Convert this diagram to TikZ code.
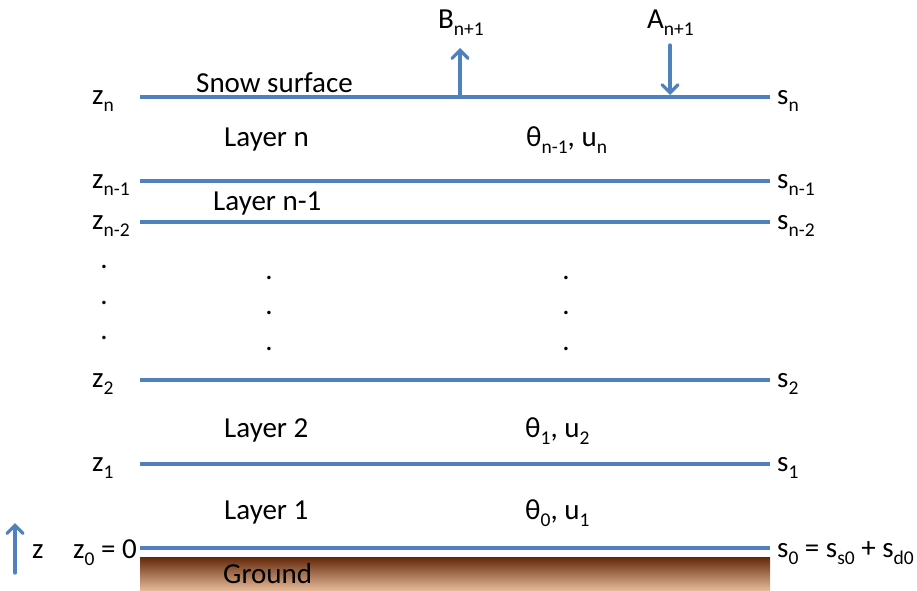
\documentclass[tikz,border=0pt]{standalone}
\usepackage{fontspec}
\setmainfont{Carlito}
\usetikzlibrary{arrows.meta}
\definecolor{lineblue}{HTML}{4F81BD}
\definecolor{groundtop}{HTML}{62280A}
\definecolor{groundmid}{HTML}{A9592F}
\definecolor{groundbot}{HTML}{E4B897}
\newcommand\sbs[1]{\raisebox{-7pt}{\fontsize{19.5}{19.5}\selectfont #1}}
\begin{document}
\begin{tikzpicture}[x=1pt,y=-1pt,
  txt/.style={anchor=base west,inner sep=0pt,font=\fontsize{29}{34}\selectfont},
  dotlbl/.style={anchor=base,inner sep=0pt,font=\fontsize{29}{34}\selectfont},
  layerline/.style={draw=lineblue,line width=3.3pt},
  flux/.style={draw=lineblue,line width=3.3pt,line cap=round,-{Straight Barb[length=8pt,width=16pt,line cap=round]}}]
\useasboundingbox (0,0) rectangle (917,590);
% ground
\shade[top color=groundtop,middle color=groundmid,bottom color=groundbot] (140,557) rectangle (770,590);
% layer boundaries
\foreach \nm/\yy in {ln/97,lnm1/181,lnm2/222,l2/380,l1/464,l0/548}{
  \coordinate (\nm W) at (140,\yy);
  \coordinate (\nm E) at (770,\yy);
  \draw[layerline] (\nm W) -- (\nm E);
}
% left labels
\node[txt] (zn) at (92,104) {z\sbs{n}};
\node[txt] (znm1) at (92,188) {z\sbs{n-1}};
\node[txt] (znm2) at (92,229) {z\sbs{n-2}};
\node[txt] (z2) at (92,387) {z\sbs{2}};
\node[txt] (z1) at (92,471) {z\sbs{1}};
\node[txt] (z0) at (73,558) {z\sbs{0} = 0};
% right labels
\node[txt] (sn) at (777,104) {s\sbs{n}};
\node[txt] (snm1) at (777,188) {s\sbs{n-1}};
\node[txt] (snm2) at (777,229) {s\sbs{n-2}};
\node[txt] (s2) at (777,387) {s\sbs{2}};
\node[txt] (s1) at (777,471) {s\sbs{1}};
\node[txt] (s0) at (777,557) {s\sbs{0} = s\sbs{s0} + s\sbs{d0}};
% layer names
\node[txt] (snow) at (196,92) {Snow surface};
\node[txt] (layn) at (224,146) {Layer n};
\node[txt] (laynm1) at (213,210) {Layer n-1};
\node[txt] (lay2) at (224,437) {Layer 2};
\node[txt] (lay1) at (224,519) {Layer 1};
\node[txt] (ground) at (223,583) {Ground};
% state variables
\node[txt] (vn) at (526,146) {θ\sbs{n-1}, u\sbs{n}};
\node[txt] (v2) at (525,437) {θ\sbs{1}, u\sbs{2}};
\node[txt] (v1) at (525,519) {θ\sbs{0}, u\sbs{1}};
% dots
\foreach \i/\yy in {1/266,2/302,3/337}{\node[dotlbl] (dl\i) at (104,\yy+2) {.};}
\foreach \i/\yy in {1/277,2/312,3/348}{
  \node[dotlbl] (dm\i) at (269,\yy+2) {.};
  \node[dotlbl] (dr\i) at (566,\yy+2) {.};
}
% fluxes
\coordinate (Bfoot) at (460,97);
\coordinate (Btip) at (460,48);
\coordinate (Atop) at (670,45);
\coordinate (Atip) at (670,95);
\draw[flux] (Bfoot) -- (Btip);
\draw[flux] (Atop) -- (Atip);
\node[txt] (B) at (438,28) {B\sbs{n+1}};
\node[txt] (A) at (647,28) {A\sbs{n+1}};
% z axis
\coordinate (zfoot) at (15,573);
\coordinate (ztip) at (15,523);
\draw[flux] (zfoot) -- (ztip);
\node[txt] (zax) at (32,558) {z};
\end{tikzpicture}
\end{document}
